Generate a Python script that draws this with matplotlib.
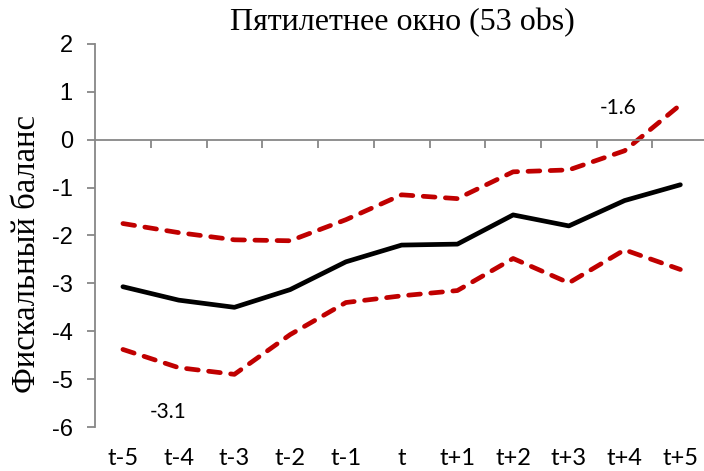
import matplotlib
matplotlib.use("Agg")
import matplotlib.pyplot as plt
from matplotlib.transforms import blended_transform_factory

categories = ["t-5", "t-4", "t-3", "t-2", "t-1", "t", "t+1", "t+2", "t+3", "t+4", "t+5"]
mean_vals = [-3.07, -3.35, -3.50, -3.13, -2.55, -2.20, -2.18, -1.57, -1.80, -1.27, -0.94]
upper_vals = [-1.75, -1.94, -2.09, -2.11, -1.67, -1.15, -1.23, -0.67, -0.63, -0.23, 0.73]
lower_vals = [-4.38, -4.76, -4.90, -4.07, -3.40, -3.26, -3.15, -2.48, -2.99, -2.30, -2.71]
yticks = [-6, -5, -4, -3, -2, -1, 0, 1, 2]
annotations = [("-1.6", 8.89, 0.67), ("-3.1", 0.81, -5.68)]

fig = plt.figure(figsize=(7.04, 4.71), dpi=100)
ax = fig.add_axes([0.135, 0.0934, 0.871, 0.8132])

x = list(range(len(categories)))
red = "#C00000"
ax.plot(x, upper_vals, color=red, lw=3.4, dashes=(2.5, 2.2), dash_capstyle="round")
ax.plot(x, lower_vals, color=red, lw=3.4, dashes=(2.5, 2.2), dash_capstyle="round")
ax.plot(x, mean_vals, color="black", lw=3.4, solid_capstyle="round")

ax.set_xlim(-0.5, len(categories) - 0.5)
ax.set_ylim(-6, 2)

gray = "#878787"
for s in ["top", "right"]:
    ax.spines[s].set_visible(False)
ax.spines["bottom"].set_position(("data", 0))
ax.spines["bottom"].set_color(gray)
ax.spines["bottom"].set_linewidth(1.3)
ax.spines["left"].set_color(gray)
ax.spines["left"].set_linewidth(1.3)

ax.set_yticks(yticks)
ax.set_yticklabels([str(v) for v in yticks], fontfamily="Liberation Sans", fontsize=17)
ax.tick_params(axis="y", direction="out", length=6, width=1.3, color=gray, pad=10)

ax.set_xticks([i + 0.5 for i in range(len(categories) - 1)])
ax.set_xticklabels([])
ax.tick_params(axis="x", direction="out", length=6, width=1.3, color=gray)

trans = blended_transform_factory(ax.transData, ax.transAxes)
for i, c in enumerate(categories):
    ax.text(i, -0.055, c, transform=trans, ha="center", va="top", fontsize=17, family="Lato")

for txt, xv, yv in annotations:
    ax.text(xv, yv, txt, ha="center", va="center", fontsize=15, family="Lato")

fig.text(0.572, 0.952, "Пятилетнее окно (53 obs)", ha="center", va="center",
         fontsize=23, family="Liberation Serif")
fig.text(0.038, 0.46, "Фискальный баланс", ha="center", va="center", rotation=90,
         fontsize=23.5, family="Liberation Serif")

fig.savefig("out.png", dpi=100)
